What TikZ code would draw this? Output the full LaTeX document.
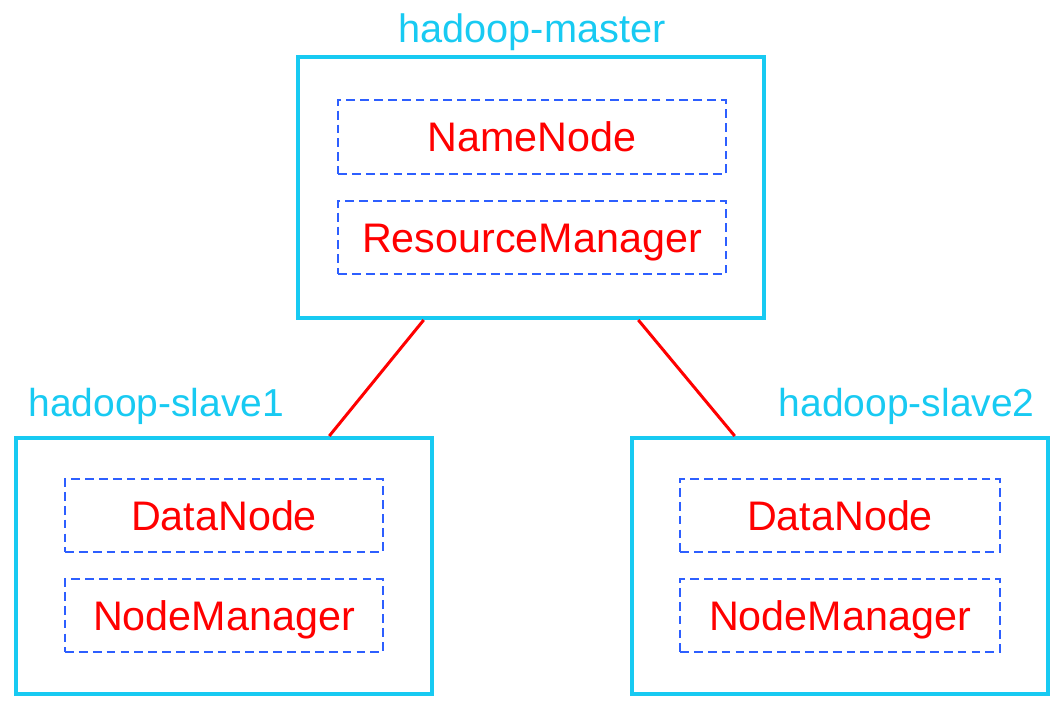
\documentclass[tikz,border=0pt]{standalone}
\usepackage{fontspec}
\setmainfont{Liberation Sans}
\definecolor{boxcyan}{RGB}{24,202,242}
\definecolor{dashblue}{RGB}{45,95,255}
\definecolor{txtred}{RGB}{255,0,0}
\begin{document}
\begin{tikzpicture}[x=0.02cm,y=-0.02cm,
  hostbox/.style={draw=boxcyan, line width=2.3pt, rectangle, inner sep=0pt},
  procbox/.style={draw=dashblue, line width=1.1pt, dash pattern=on 5pt off 2.9pt, rectangle, inner sep=0pt,
    text=txtred, font=\fontsize{23.5}{28}\selectfont, text height=16.8pt, text depth=0pt},
  hostlabel/.style={text=boxcyan, font=\fontsize{22.2}{27}\selectfont, inner sep=0pt},
  link/.style={draw=txtred, line width=1.7pt}]
\useasboundingbox (0,0) rectangle (1062,714);
% host boxes
\node[hostbox, minimum width=9.32cm, minimum height=5.22cm] (master) at (531,187.5) {};
\node[hostbox, minimum width=8.32cm, minimum height=5.12cm] (slaveA) at (224,566) {};
\node[hostbox, minimum width=8.32cm, minimum height=5.12cm] (slaveB) at (840,566) {};
% labels
\node[hostlabel, anchor=base, font=\fontsize{22.6}{27}\selectfont] (lmaster) at (532,42) {hadoop-master};
\node[hostlabel, anchor=base west] (lslaveA) at (28,416) {hadoop-slave1};
\node[hostlabel, anchor=base east] (lslaveB) at (1035,416) {hadoop-slave2};
% processes
\node[procbox, minimum width=7.76cm, minimum height=1.48cm] (nn) at (532,137) {NameNode};
\node[procbox, minimum width=7.76cm, minimum height=1.46cm] (rm) at (532,237.5) {ResourceManager};
\node[procbox, minimum width=6.36cm, minimum height=1.46cm] (dnA) at (224,515.5) {DataNode};
\node[procbox, minimum width=6.36cm, minimum height=1.46cm] (nmA) at (224,615.5) {NodeManager};
\node[procbox, minimum width=6.40cm, minimum height=1.46cm] (dnB) at (840,515.5) {DataNode};
\node[procbox, minimum width=6.40cm, minimum height=1.46cm] (nmB) at (840,615.5) {NodeManager};
% links
\draw[link] (master.231.6) -- (slaveA.51);
\draw[link] (master.309.35) -- (slaveB.129.9);
\end{tikzpicture}
\end{document}
